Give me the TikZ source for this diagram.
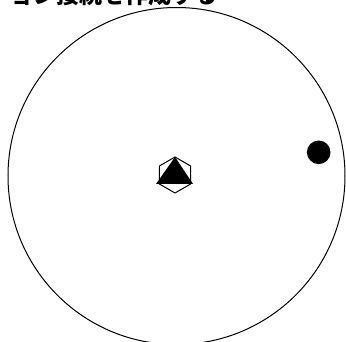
\documentclass[tikz,border=0pt]{standalone}
\usepackage{fontspec}
\newfontfamily\cjk{Noto Sans CJK JP}
\usetikzlibrary{shapes.geometric}

\begin{document}
\begin{tikzpicture}[x=1pt, y=-1pt, line width=1pt]
    \useasboundingbox (0,0) rectangle (346,342);
    \clip (0,0) rectangle (346,342);
    \node[anchor=base west, inner sep=0pt, font=\cjk\bfseries\fontsize{23}{23}\selectfont] (title) at (10,3.5) {ョン接続を作成する};

    \draw (176.5,176) circle (168.5);

    \draw[fill=white] (175,157) -- (190.6,166) -- (190.6,184) -- (175,193) -- (159.4,184) -- (159.4,166) -- cycle;
    \fill[line join=round] (175,157) -- (193,184) -- (156,184) -- cycle;

    \fill (318.7,152.3) circle (11.8);
\end{tikzpicture}
\end{document}
